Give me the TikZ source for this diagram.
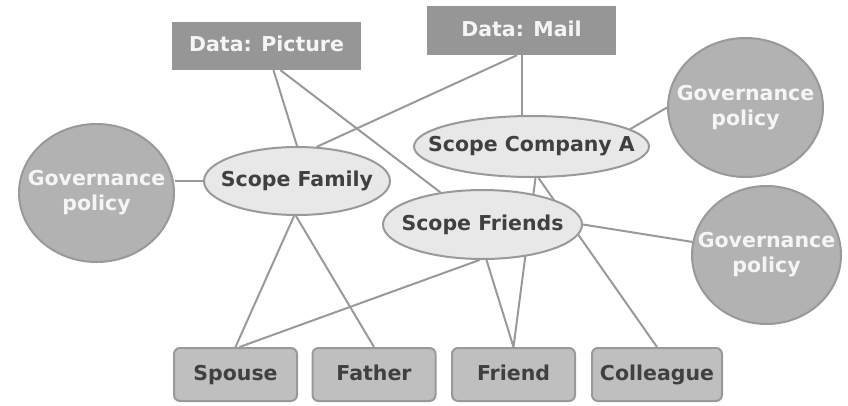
\documentclass[tikz,border=0pt]{standalone}
\usepackage{fontspec}
\setmainfont{DejaVu Sans}
\usetikzlibrary{shapes.geometric,backgrounds}

\definecolor{linegray}{HTML}{999999}
\definecolor{textgray}{HTML}{404040}

\tikzset{
    data/.style={rectangle, fill=black!41, text=white!96!black, inner sep=0pt, text height=15pt, text depth=4pt},
    gov/.style={ellipse, draw=linegray, line width=2pt, fill=black!30, text=white!96!black, align=center,
        inner xsep=-50pt, inner ysep=-10pt},
    scope/.style={ellipse, draw=linegray, line width=2pt, fill=black!9, text=textgray,
        inner xsep=-60pt, inner ysep=-5pt},
    member/.style={rectangle, rounded corners=6pt, draw=linegray, line width=2pt, fill=black!25, text=textgray,
        minimum width=123pt, minimum height=53pt, inner sep=0pt, text height=15pt, text depth=4pt},
    link/.style={draw=linegray, line width=2pt}
}

\begin{document}
\begin{tikzpicture}[x=1pt, y=-1pt, font=\bfseries\fontsize{20.5}{25}\selectfont]
    \useasboundingbox (0,0) rectangle (848,405);

    % data
    \node[data, minimum width=189pt, minimum height=48pt] (dp) at (266.5,46) {Data: Picture};
    \node[data, minimum width=189pt, minimum height=49pt] (dm) at (521.5,30.5) {Data: Mail};

    % policies
    \node[gov, minimum width=155pt, minimum height=138pt] (gl) at (96.5,193) {Governance\\policy};
    \node[gov, minimum width=155pt, minimum height=139pt] (gtr) at (745.5,107.5) {Governance\\policy};
    \node[gov, minimum width=149pt, minimum height=138pt] (gbr) at (766.5,255) {Governance\\policy};

    % scopes
    \node[scope, minimum width=186pt, minimum height=68pt] (sfam) at (297,181) {Scope Family};
    \node[scope, minimum width=235pt, minimum height=61pt] (sca) at (531.5,146.5) {Scope Company A};
    \node[scope, minimum width=199pt, minimum height=69pt] (sfr) at (482.5,224.5) {Scope Friends};

    % people
    \node[member] (spo) at (235.5,374.5) {Spouse};
    \node[member] (fat) at (374,374.5) {Father};
    \node[member] (fri) at (513.5,374.5) {Friend};
    \node[member, minimum width=130pt] (col) at (657,374.5) {Colleague};

    \begin{scope}[on background layer]
        \draw[link] ([xshift=7pt]dp.south) -- (sfam.north);
        \draw[link] ([xshift=14pt]dp.south) -- (sfr);
        \draw[link] ([xshift=-4.5pt]dm.south) -- (sfam.60);
        \draw[link] (dm.south) -- (dm.south |- sca.north);
        \draw[link] (sca.10) -- (gtr.west);
        \draw[link] ([xshift=4pt]sca.south) -- (fri.north);
        \draw[link] ([xshift=7pt]sca.south) -- (col.north);
        \draw[link] (sfam.west) -- (sfam.west -| gl.east);
        \draw[link] ([xshift=-3pt]sfam.south) -- (spo.north);
        \draw[link] ([xshift=-1pt]sfam.south) -- (fat.north);
        \draw[link] ([xshift=-3pt]sfr.south) -- ([xshift=4pt]spo.north);
        \draw[link] ([xshift=4pt]sfr.south) -- (fri.north);
        \draw[link] (sfr.east) -- (gbr.170);
    \end{scope}
\end{tikzpicture}
\end{document}
